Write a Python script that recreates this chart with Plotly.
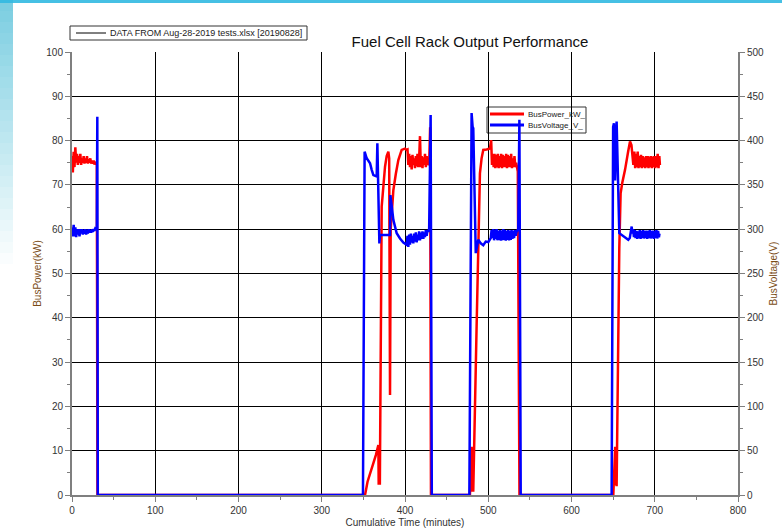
import plotly.graph_objects as go

# ---------------- data ----------------
power_time = [
    0, 1, 2, 3, 4, 5, 6, 7, 8, 9, 10, 11, 12, 13, 14, 15, 16, 17, 18, 19,
    20, 21, 22, 23, 24, 25, 26, 27, 28, 29, 29.8, 30.6, 352,
    355, 358, 362, 365, 368, 368.4, 369.8, 372, 374, 376, 378, 380, 381, 382,
    382.8, 386, 389, 392, 396, 400, 402, 403,
    404, 405, 406, 407, 408, 409, 410, 411, 412, 413, 414, 415, 416, 417, 418,
    419, 420, 421, 422, 423, 424, 425, 426, 427, 428, 429, 430.2, 431.2, 478,
    479, 480, 480.8, 482, 486, 488, 490, 492, 494, 498, 502, 503.5, 504.5,
    505.5, 506.5, 507.5, 508.5, 509.5, 510.5, 511.5, 512.5, 513.5, 514.5,
    515.5, 516.5, 517.5, 518.5, 519.5, 520.5, 521.5, 522.5, 523.5, 524.5,
    525.5, 526.5, 527.5, 528.5, 529.5, 530.5, 531.5, 532.5, 533.5,
    534.5, 535.5, 537.5, 650.2,
    651.5, 652.5, 653.2, 654.2, 657.4, 659, 661, 664.3, 668, 670.3, 672, 674.3,
    675.5, 676.5, 677.5, 678.5, 679.5, 680.5, 681.5, 682.5, 683.5, 684.5,
    685.5, 686.5, 687.5, 688.5, 689.5, 690.5, 691.5, 692.5, 693.5, 694.5,
    695.5, 696.5, 697.5, 698.5, 699.5, 700.5, 701.5, 702.5, 703.5, 704.5,
    705.5, 706.2,
]
power_kw = [
    76.5, 72.8, 77.5, 74, 78.5, 75, 77, 74.5, 76.5, 75, 77, 74.5, 76, 75, 76.5,
    74.8, 76, 75, 76.5, 74.8, 75.8, 75, 76, 74.8, 75.5, 74.8, 75.5, 74.6, 75.2,
    74.8, 74.5, 0, 0,
    3, 5, 7.2, 9, 11.3, 2.6, 2.6, 65.1, 70, 74.1, 76.5, 77.5, 76, 22.6,
    60, 68.8, 72.5, 75.6, 77.9, 78.2, 77.9, 78,
    74.5, 77, 74, 76.5, 73.5, 76.8, 74.5, 76, 73.8, 76.5, 74.2, 77, 74, 76, 81,
    74, 76.5, 73.8, 76.2, 74.5, 77, 74, 76.5, 74.5, 75, 74.5, 83, 0, 0,
    6, 10.9, 1, 1, 38, 58, 72.6, 76, 77.9, 78, 78.2, 80.1, 74.5,
    77, 74, 77, 73.8, 76.8, 74, 77, 73.8, 76.5, 74,
    77, 73.8, 76.8, 74, 76.5, 74, 77, 73.8, 76.8, 74,
    76.5, 74, 77, 73.8, 76, 74, 76.5, 74, 75,
    73.2, 73, 0, 0,
    6, 10.9, 3, 2, 55.7, 68.1, 70.5, 73.4, 77.5, 79.8, 79, 74.5,
    77.5, 73.8, 77, 74, 77.5, 73.8, 76.5, 74, 76.8, 73.8,
    76.5, 74, 76.2, 73.8, 76.5, 74, 76.5, 73.8, 76.4, 74,
    76.5, 73.8, 76.4, 74, 76.5, 73.8, 76.5, 74, 77, 73.8,
    76.5, 74.5,
]

voltage_time = [
    0, 1, 2, 3, 4, 5, 6, 7, 8, 9, 10, 11, 12, 13, 14, 15, 16, 17, 18, 19,
    20, 21, 22, 23, 24, 25, 26, 27, 28, 29, 29.8, 30.4, 31, 349.5,
    351.5, 354, 358, 360, 362, 366, 366.8, 369.2, 370, 382, 382.5, 386, 388,
    390, 394, 398, 402,
    403, 404, 405, 406, 407, 408, 409, 410, 411, 412, 413, 414, 415, 416, 417,
    418, 419, 420, 421, 422, 423, 424, 425, 426, 427, 428, 429, 430.8, 432.2,
    477.3, 480, 481.2, 482, 485, 488, 491, 494, 497, 500, 503, 504,
    505, 506, 507, 508, 509, 510, 511, 512, 513, 514, 515, 516, 517, 518, 519,
    520, 521, 522, 523, 524, 525, 526, 527, 528, 529, 530, 531, 532, 533, 534,
    536, 537.4, 539, 648.2,
    650, 651, 652.3, 653.5, 654.2, 657.4, 660.2, 664, 668.2, 670, 672.3, 673,
    674,
    675, 676, 677, 678, 679, 680, 681, 682, 683, 684, 685, 686, 687, 688, 689,
    690, 691, 692, 693, 694, 695, 696, 697, 698, 699, 700, 701, 702, 703, 704,
    705, 705.7,
]
voltage_v = [
    302, 292, 305, 292, 302, 291, 300, 294, 300, 292, 300, 295, 300, 294, 299,
    295, 300, 294, 299, 295, 300, 296, 299, 296, 300, 297, 300, 298, 301, 300,
    300, 427, 0, 0,
    387.5, 380, 374.5, 367, 361, 359.5, 397, 284, 293.5, 293.5, 338.5, 310.5,
    303, 295.5, 289.5, 285, 282.5,
    292.5, 280, 294, 282.5, 295, 285, 292.5, 284, 295, 286, 296.5, 285, 294,
    287.5, 297.5, 287.5, 296, 289, 297.5, 289, 296.5, 291, 299, 292.5, 299,
    297, 300, 429, 0,
    0, 431, 415.5, 414, 273, 288, 284, 282, 286, 285.5, 290, 299,
    290, 300, 287.5, 299, 289, 300, 287.5, 298, 288, 299, 287, 298.5, 287.5,
    300, 288, 299, 287, 298, 288, 299, 287.5, 298, 288, 299, 289, 298, 290,
    299, 292.5, 297,
    300, 423.5, 0, 0,
    415.5, 419.5, 355, 390, 421.5, 295.5, 293.5, 290, 288, 290, 303, 295,
    300,
    291, 299, 290, 298, 289, 297.5, 290, 299, 289, 298, 290, 299, 289.5, 298,
    290, 298.5, 289, 298, 290, 299, 289.5, 298, 290, 298.5, 289, 298, 290,
    299, 289.5, 298, 291, 295,
]

x_ticks = [0, 100, 200, 300, 400, 500, 600, 700, 800]
power_ticks = [0, 10, 20, 30, 40, 50, 60, 70, 80, 90, 100]
voltage_ticks = [0, 50, 100, 150, 200, 250, 300, 350, 400, 450, 500]

power_name = "BusPower_kW_"
voltage_name = "BusVoltage_V_"
source_note = "DATA FROM Aug-28-2019 tests.xlsx [20190828]"

FONT = "Liberation Sans, Arial, sans-serif"
AXIS_GRAY = "#7f7f7f"
TITLE_BROWN = "#7a4c16"
RED = "#ff0000"
BLUE = "#0000ff"

fig = go.Figure()
fig.add_trace(go.Scatter(
    x=power_time, y=power_kw, mode="lines", name=power_name,
    line=dict(color=RED, width=2.5), yaxis="y", showlegend=False,
))
fig.add_trace(go.Scatter(
    x=voltage_time, y=voltage_v, mode="lines", name=voltage_name,
    line=dict(color=BLUE, width=2.5), yaxis="y2", showlegend=False,
))

W, H = 782, 530
L, R, T, B = 72, 44, 52, 35
PW, PH = W - L - R, H - T - B


def px_x(x):
    return (x - L) / PW


def px_y(y):
    return (H - B - y) / PH


shapes = []
annotations = []

# slide background decoration (gradient strips at the left and top edges)
n = 24
for i in range(n):
    y0 = i * 11
    a = max(0.0, 0.75 * (1 - i / n))
    shapes.append(dict(
        type="rect", xref="paper", yref="paper", layer="below",
        x0=px_x(0), x1=px_x(13), y0=px_y(y0 + 11), y1=px_y(y0),
        fillcolor=f"rgba(80,190,215,{a:.3f})", line=dict(width=0),
    ))
shapes.append(dict(
    type="rect", xref="paper", yref="paper", layer="below",
    x0=px_x(0), x1=px_x(W), y0=px_y(3), y1=px_y(0),
    fillcolor="rgba(50,185,225,0.9)", line=dict(width=0),
))

# source-note box (top left)
shapes.append(dict(
    type="rect", xref="paper", yref="paper", layer="above",
    x0=px_x(70), x1=px_x(307), y0=px_y(40), y1=px_y(26),
    fillcolor="white", line=dict(color="#333333", width=1),
))
shapes.append(dict(
    type="line", xref="paper", yref="paper", layer="above",
    x0=px_x(76), x1=px_x(106), y0=px_y(33), y1=px_y(33),
    line=dict(color="black", width=1),
))
annotations.append(dict(
    text=source_note, xref="paper", yref="paper", showarrow=False,
    x=px_x(108), y=px_y(33), xanchor="left", yanchor="middle",
    font=dict(family=FONT, size=9, color="#222222"),
))

# series legend box (inside plot, under the data lines)
shapes.append(dict(
    type="rect", xref="paper", yref="paper", layer="between",
    x0=px_x(487), x1=px_x(586), y0=px_y(133), y1=px_y(107),
    fillcolor="white", line=dict(color="#333333", width=1),
))
for yy, col, name in [(114, RED, power_name), (125, BLUE, voltage_name)]:
    shapes.append(dict(
        type="line", xref="paper", yref="paper", layer="between",
        x0=px_x(490), x1=px_x(524), y0=px_y(yy), y1=px_y(yy),
        line=dict(color=col, width=3),
    ))
    annotations.append(dict(
        text=name, xref="paper", yref="paper", showarrow=False,
        x=px_x(526), y=px_y(yy), xanchor="left", yanchor="middle",
        font=dict(family=FONT, size=8, color="#222222"),
    ))

axis_common = dict(
    showline=True, linecolor=AXIS_GRAY, linewidth=2,
    ticks="outside", ticklen=5, tickcolor=AXIS_GRAY, tickwidth=1,
    tickfont=dict(family=FONT, size=10, color="#333333"),
    zeroline=False, automargin=False,
)

fig.update_layout(
    width=W, height=H,
    margin=dict(l=L, r=R, t=T, b=B),
    paper_bgcolor="white", plot_bgcolor="white",
    font=dict(family=FONT, color="#222222"),
    showlegend=False,
    title=dict(
        text="Fuel Cell Rack Output Performance",
        font=dict(family=FONT, size=15, color="#111111"),
        x=px_x(470), xref="paper", xanchor="center",
        y=1 - 42 / H, yref="container", yanchor="middle",
        automargin=False,
    ),
    xaxis=dict(
        range=[0, 800], tickvals=x_ticks,
        showgrid=True, gridcolor="black", gridwidth=1,
        minor=dict(dtick=50, tick0=0, ticklen=3, tickcolor=AXIS_GRAY,
                   ticks="outside", showgrid=False),
        title=dict(text="Cumulative Time (minutes)",
                   font=dict(family=FONT, size=10, color="#333333"),
                   standoff=4),
        **axis_common,
    ),
    yaxis=dict(
        range=[0, 100], tickvals=power_ticks,
        showgrid=True, gridcolor="black", gridwidth=1,
        minor=dict(dtick=5, tick0=0, ticklen=3, tickcolor=AXIS_GRAY,
                   ticks="outside", showgrid=False),
        title=dict(text="BusPower(kW)",
                   font=dict(family=FONT, size=10, color=TITLE_BROWN),
                   standoff=3),
        **axis_common,
    ),
    yaxis2=dict(
        range=[0, 500], tickvals=voltage_ticks, overlaying="y", side="right",
        showgrid=False,
        minor=dict(dtick=25, tick0=0, ticklen=3, tickcolor=AXIS_GRAY,
                   ticks="outside", showgrid=False),
        title=dict(text="BusVoltage(V)",
                   font=dict(family=FONT, size=10, color=TITLE_BROWN),
                   standoff=7),
        **axis_common,
    ),
    shapes=shapes,
    annotations=annotations,
)

fig.write_html("out.html")
